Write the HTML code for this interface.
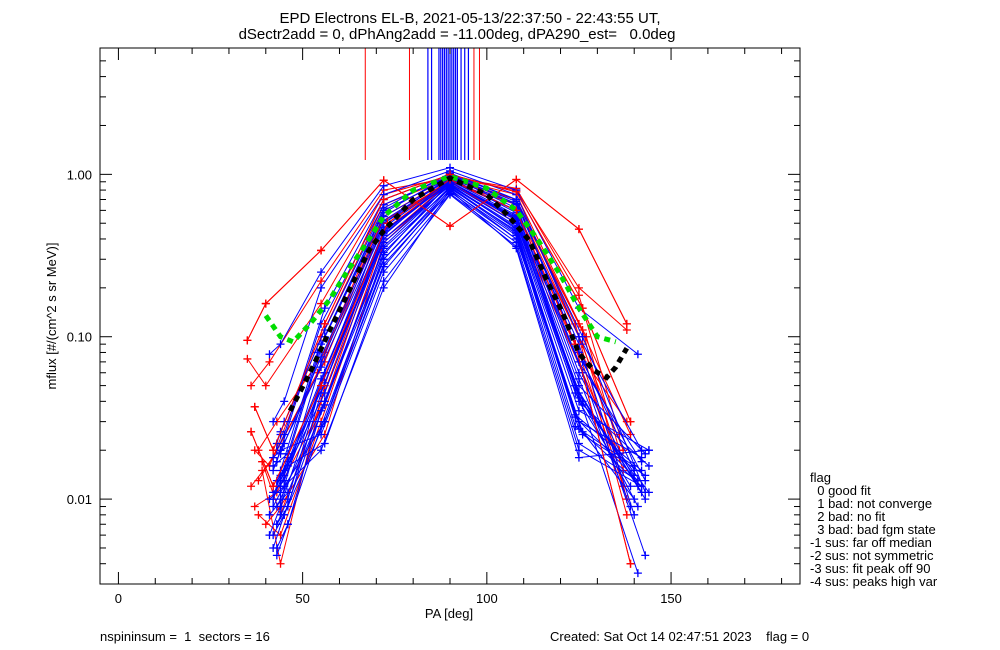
<!DOCTYPE html>
<html><head><meta charset="utf-8"><style>
body{margin:0;background:#fff;}
svg{display:block;font-family:"Liberation Sans",sans-serif;}
.pre{white-space:pre;}
</style></head><body>
<svg id="chart" width="1000" height="650" viewBox="0 0 1000 650" xmlns="http://www.w3.org/2000/svg">
<rect width="1000" height="650" fill="#fff"/>
<text x="470" y="23" font-size="15" text-anchor="middle">EPD Electrons EL-B, 2021-05-13/22:37:50 - 22:43:55 UT,</text>
<text class="pre" x="457" y="39" font-size="15" text-anchor="middle">dSectr2add = 0, dPhAng2add = -11.00deg, dPA290_est=   0.0deg</text>
<g id="plot"></g>
<g id="axes"></g>
<text x="449" y="618" font-size="13" text-anchor="middle">PA [deg]</text>
<text transform="translate(56,316) rotate(-90)" font-size="13" text-anchor="middle">mflux [#/(cm^2 s sr MeV)]</text>
<text class="pre" x="100" y="641" font-size="13">nspininsum =  1  sectors = 16</text>
<text class="pre" x="550" y="641" font-size="13">Created: Sat Oct 14 02:47:51 2023    flag = 0</text>
<g font-size="13">
<text class="pre" x="810" y="482">flag</text>
<text class="pre" x="810" y="495">  0 good fit</text>
<text class="pre" x="810" y="508">  1 bad: not converge</text>
<text class="pre" x="810" y="521">  2 bad: no fit</text>
<text class="pre" x="810" y="534">  3 bad: bad fgm state</text>
<text class="pre" x="810" y="547">-1 sus: far off median</text>
<text class="pre" x="810" y="560">-2 sus: not symmetric</text>
<text class="pre" x="810" y="573">-3 sus: fit peak off 90</text>
<text class="pre" x="810" y="586">-4 sus: peaks high var</text>
</g>
</svg>
<script>
const xTicks=[0,50,100,150];
const yTickVals=[0.01,0.1,1];
const yTickLabels=["0.01","0.10","1.00"];
const peakRed=[67,79,96.5,98];
const peakBlue=[84,85,87,87.5,88,88.5,89,89.5,90,90.5,91,91.5,92,93,94,95];
const redPA=[
[35,40,55,72,90,108,125,138],
[36,41,55,72,90,108,125,138],
[37,42,56,72,90,108,126,139],
[38,43,56,72,90,108,125,139],
[36,42,54,71,90,108,127,136],
[37,43,56,72,90,108,126,137],
[38,44,55,72,90,107,125,137],
[39,44,56,72,90,108,124,138],
[35,40,55,72,89,108,125,136],
[37,41,55,72,90,108,126,138],
[38,43,56,72,90,108,125,137],
[36,42,55,73,90,108,124,139],
[39,44,55,72,90,108,125,138],
[40,44,56,72,90,108,126,136]];
const redFlux=[
[0.095,0.16,0.34,0.92,0.48,0.93,0.46,0.12],
[0.05,0.07,0.22,0.8,0.95,0.8,0.2,0.11],
[0.037,0.02,0.12,0.7,1.0,0.78,0.15,0.03],
[0.02,0.03,0.08,0.6,0.95,0.7,0.12,0.025],
[0.012,0.018,0.06,0.5,0.9,0.65,0.1,0.02],
[0.009,0.011,0.04,0.45,0.92,0.6,0.09,0.015],
[0.008,0.006,0.03,0.4,0.9,0.55,0.08,0.012],
[0.015,0.004,0.05,0.55,0.93,0.7,0.12,0.008],
[0.073,0.05,0.16,0.75,0.97,0.82,0.18,0.025],
[0.02,0.016,0.1,0.65,0.95,0.75,0.11,0.01],
[0.013,0.02,0.07,0.55,0.94,0.66,0.1,0.02],
[0.026,0.012,0.05,0.5,0.93,0.6,0.09,0.004],
[0.017,0.008,0.04,0.45,0.91,0.6,0.08,0.03],
[0.007,0.009,0.025,0.38,0.9,0.5,0.06,0.018]];
const bluePA=[
[41,44,55,72,90,108,125,141],
[42,45,55,72,90,108,125,142],
[43,45,56,72,90,108,125,140],
[42,44,55,72,90,108,126,143],
[43,46,56,72,90,108,125,141],
[42,44,54,72,90,108,124,142],
[44,45,55,72,90,108,125,143],
[43,46,56,72,90,108,126,141],
[41,44,55,72,90,108,125,144],
[42,45,56,72,90,108,125,142],
[43,46,55,72,90,108,124,140],
[44,45,56,72,90,108,126,143],
[42,44,55,72,90,108,125,141],
[43,46,56,72,90,108,125,142],
[41,45,55,72,90,108,125,144],
[42,44,56,72,90,108,124,141],
[43,46,55,72,90,108,126,143],
[44,45,56,72,90,108,125,142],
[42,46,55,72,90,108,125,140],
[43,44,56,72,90,108,126,143],
[42,45,55,72,90,108,125,139],
[43,44,56,72,90,108,124,142],
[44,46,55,72,90,108,125,144],
[42,45,56,72,90,108,126,140],
[43,44,55,72,90,108,125,143],
[41,46,56,72,90,108,124,141],
[44,45,55,72,90,108,125,139],
[42,44,56,72,90,108,126,144],
[43,46,55,72,90,108,125,142],
[44,45,56,72,90,108,124,140]];
const blueFlux=[
[0.078,0.09,0.25,0.85,1.1,0.8,0.15,0.078],
[0.03,0.04,0.2,0.75,1.05,0.75,0.1,0.02],
[0.02,0.025,0.15,0.7,1.0,0.7,0.08,0.015],
[0.015,0.02,0.12,0.65,0.98,0.68,0.07,0.013],
[0.012,0.018,0.1,0.6,0.95,0.65,0.06,0.012],
[0.01,0.015,0.08,0.55,0.93,0.6,0.05,0.011],
[0.008,0.012,0.07,0.5,0.9,0.55,0.045,0.01],
[0.007,0.01,0.06,0.45,0.88,0.5,0.04,0.009],
[0.006,0.009,0.05,0.4,0.85,0.47,0.035,0.02],
[0.005,0.008,0.04,0.35,0.82,0.45,0.03,0.018],
[0.0045,0.007,0.035,0.3,0.8,0.42,0.028,0.016],
[0.025,0.03,0.03,0.28,0.78,0.4,0.025,0.014],
[0.018,0.02,0.025,0.25,0.76,0.38,0.022,0.013],
[0.013,0.016,0.022,0.22,0.75,0.36,0.02,0.012],
[0.01,0.012,0.02,0.2,0.8,0.35,0.018,0.02],
[0.009,0.011,0.03,0.32,0.9,0.52,0.05,0.0035],
[0.007,0.009,0.045,0.42,0.95,0.58,0.06,0.0045],
[0.012,0.014,0.06,0.5,0.97,0.62,0.07,0.017],
[0.016,0.019,0.09,0.58,0.99,0.66,0.09,0.008],
[0.022,0.026,0.11,0.62,1.02,0.7,0.1,0.011],
[0.011,0.013,0.05,0.38,0.86,0.48,0.04,0.012],
[0.009,0.01,0.04,0.33,0.84,0.44,0.033,0.015],
[0.014,0.017,0.055,0.44,0.9,0.53,0.042,0.011],
[0.006,0.008,0.03,0.27,0.81,0.4,0.026,0.01],
[0.017,0.02,0.065,0.47,0.92,0.56,0.05,0.019],
[0.008,0.011,0.038,0.36,0.87,0.46,0.032,0.013],
[0.019,0.022,0.075,0.52,0.94,0.6,0.055,0.009],
[0.01,0.013,0.045,0.4,0.88,0.5,0.038,0.016],
[0.005,0.007,0.028,0.3,0.83,0.43,0.027,0.012],
[0.013,0.015,0.052,0.43,0.9,0.54,0.045,0.014]];
const greenPA=[40,44,47.4,52,57.4,62,66,72,80,90,100,108,114,120,125,130,135];
const greenFlux=[0.135,0.1,0.093,0.12,0.17,0.25,0.34,0.55,0.8,0.97,0.82,0.6,0.39,0.24,0.15,0.1,0.093];
const blackPA=[46.6,52,57.4,63,68,72,80,90,100,106,111.6,116,120.6,125,129,132.5,135,138];
const blackFlux=[0.035,0.06,0.11,0.2,0.34,0.45,0.7,0.95,0.75,0.55,0.39,0.23,0.14,0.079,0.062,0.056,0.065,0.085];

const NS="http://www.w3.org/2000/svg";
const X0=100,X1=800,Y0=48,Y1=584,XMIN=-5,XMAX=185,YMIN=0.003,YMAX=6;
function xs(v){return X0+(v-XMIN)/(XMAX-XMIN)*(X1-X0);}
function ys(v){return Y1-(Math.log10(v)-Math.log10(YMIN))/(Math.log10(YMAX)-Math.log10(YMIN))*(Y1-Y0);}
const plot=document.getElementById('plot'),axes=document.getElementById('axes');
function mk(tag,attrs,parent){const e=document.createElementNS(NS,tag);for(const k in attrs)e.setAttribute(k,attrs[k]);parent.appendChild(e);return e;}
const clip=mk('clipPath',{id:'cp'},plot);mk('rect',{x:X0,y:Y0,width:X1-X0,height:Y1-Y0},clip);
const g=mk('g',{'clip-path':'url(#cp)'},plot);
function series(paArr,fluxArr,color,name){
 paArr.forEach((pa,i)=>{
  const fl=fluxArr[i];
  const pts=pa.map((p,j)=>xs(p).toFixed(1)+','+ys(fl[j]).toFixed(1)).join(' ');
  const pl=mk('polyline',{points:pts,fill:'none',stroke:color,'stroke-width':1},g);
  
  
  pa.forEach((p,j)=>{
   const x=xs(p),y=ys(fl[j]);
   const m=mk('path',{d:`M${x-4},${y}H${x+4}M${x},${y-4}V${y+4}`,stroke:color,'stroke-width':1.3},g);
   
   
  });
 });
}
peakRed.forEach(p=>{const l=mk('line',{x1:xs(p),x2:xs(p),y1:Y0,y2:160,stroke:'#f00','stroke-width':1},g);
 
 });
peakBlue.forEach(p=>{const l=mk('line',{x1:xs(p),x2:xs(p),y1:Y0,y2:160,stroke:'#00f','stroke-width':1.2},g);
 
 });
series(redPA,redFlux,'#f00','red-series');
series(bluePA,blueFlux,'#00f','blue-series');
series([redPA[0],redPA[2],redPA[11]],[redFlux[0],redFlux[2],redFlux[11]],'#f00','red-series-top');
function fit(pa,fl,color,name){
 const pts=pa.map((p,j)=>xs(p).toFixed(1)+','+ys(fl[j]).toFixed(1)).join(' ');
 const pl=mk('polyline',{points:pts,fill:'none',stroke:color,'stroke-width':5,'stroke-dasharray':'6 5'},g);
 
 
}
fit(greenPA,greenFlux,'#0d0','green-fit-curve');
fit(blackPA,blackFlux,'#000','black-fit-curve');
mk('rect',{x:X0,y:Y0,width:X1-X0,height:Y1-Y0,fill:'none',stroke:'#000','stroke-width':1},axes);
for(let v=0;v<=180;v+=10){
 const x=xs(v),len=(v%50===0)?12:6;
 mk('line',{x1:x,x2:x,y1:Y1,y2:Y1-len,stroke:'#000'},axes);
 mk('line',{x1:x,x2:x,y1:Y0,y2:Y0+len,stroke:'#000'},axes);
}
xTicks.forEach(v=>{const t=mk('text',{x:xs(v),y:Y1+19,'font-size':13,'text-anchor':'middle'},axes);t.textContent=v;
 
 });
for(let d=-3;d<=0;d++)for(let m=1;m<=9;m++){
 const v=m*Math.pow(10,d);if(v<YMIN||v>YMAX)continue;
 const y=ys(v),len=m===1?12:6;
 mk('line',{x1:X0,x2:X0+len,y1:y,y2:y,stroke:'#000'},axes);
 mk('line',{x1:X1,x2:X1-len,y1:y,y2:y,stroke:'#000'},axes);
}
yTickVals.forEach((v,i)=>{const t=mk('text',{x:X0-8,y:ys(v)+5,'font-size':13,'text-anchor':'end'},axes);t.textContent=yTickLabels[i];
 
 });
</script>
</body></html>
